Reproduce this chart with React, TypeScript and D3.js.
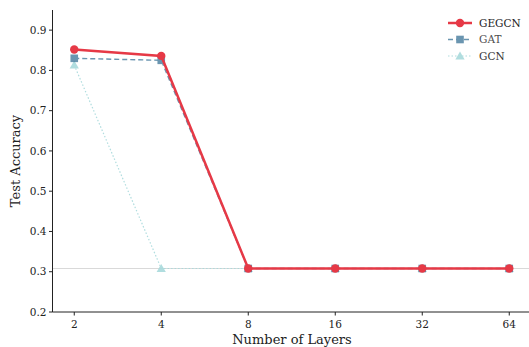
import React from "react";
import * as d3 from "d3";

const layers = ["2", "4", "8", "16", "32", "64"];
const gegcn = [0.852, 0.836, 0.308, 0.308, 0.308, 0.308];
const gat = [0.830, 0.825, 0.308, 0.308, 0.308, 0.308];
const gcn = [0.813, 0.308, 0.308, 0.308, 0.308, 0.308];
const yTicks = [0.2, 0.3, 0.4, 0.5, 0.6, 0.7, 0.8, 0.9];
const refLine = 0.308;

const W = 529, H = 347;
const m = { left: 52.5, top: 10, right: 531, bottom: 312 };

export default function App() {
  const x = d3.scaleLinear().domain([-0.25, 5.25]).range([m.left, m.right]);
  const y = d3.scaleLinear().domain([0.2, 0.95]).range([m.bottom, m.top]);
  const line = (vals: number[]) =>
    d3.line<number>().x((_, i) => x(i)).y((d) => y(d))(vals) || "";
  const font = "DejaVu Serif";
  const series = [
    { name: "GEGCN", vals: gegcn, color: "#e63946", width: 2.5, dash: "", marker: "circle", opacity: 1 },
    { name: "GAT", vals: gat, color: "#457b9d", width: 1.4, dash: "5,3", marker: "square", opacity: 0.8 },
    { name: "GCN", vals: gcn, color: "#a8dadc", width: 1.2, dash: "1.5,2", marker: "triangle", opacity: 0.9 },
  ];
  const marker = (type: string, cx: number, cy: number, color: string, key: string, s = 1) => {
    if (type === "circle") return <circle key={key} cx={cx} cy={cy} r={4.2 * s} fill={color} />;
    if (type === "square") return <rect key={key} x={cx - 3.8 * s} y={cy - 3.8 * s} width={7.6 * s} height={7.6 * s} fill={color} />;
    const r = 4.6 * s;
    return <path key={key} d={`M${cx},${cy - r} L${cx + r},${cy + r * 0.75} L${cx - r},${cy + r * 0.75} Z`} fill={color} />;
  };
  const order = [...series].reverse();
  return (
    <svg width={W} height={H} style={{ position: "absolute", left: 0, top: 0, background: "#fff" }} fontFamily={font}>
      <line x1={m.left} x2={m.right} y1={y(refLine)} y2={y(refLine)} stroke="#d9d9d9" strokeWidth={1} />
      {order.map((s) => (
        <g key={s.name} opacity={s.opacity}>
          <path d={line(s.vals)} fill="none" stroke={s.color} strokeWidth={s.width} strokeDasharray={s.dash} />
          {s.vals.map((v, i) => marker(s.marker, x(i), y(v), s.color, s.name + i))}
        </g>
      ))}
      <line x1={m.left} x2={m.left} y1={m.top} y2={m.bottom} stroke="#222" strokeWidth={1} />
      <line x1={m.left} x2={m.right} y1={m.bottom} y2={m.bottom} stroke="#222" strokeWidth={1} />
      {yTicks.map((t) => (
        <g key={t}>
          <line x1={m.left - 3.5} x2={m.left} y1={y(t)} y2={y(t)} stroke="#222" />
          <text x={m.left - 6} y={y(t)} dy="0.35em" textAnchor="end" fontSize={10.5} fill="#222">{t.toFixed(1)}</text>
        </g>
      ))}
      {layers.map((l, i) => (
        <g key={l}>
          <line x1={x(i)} x2={x(i)} y1={m.bottom} y2={m.bottom + 3.5} stroke="#222" />
          <text x={x(i)} y={m.bottom + 16} textAnchor="middle" fontSize={10.5} fill="#222">{l}</text>
        </g>
      ))}
      <text x={292} y={344} textAnchor="middle" fontSize={13} fill="#222">Number of Layers</text>
      <text transform={`translate(20,${(m.top + m.bottom) / 2}) rotate(-90)`} textAnchor="middle" fontSize={13} fill="#222">Test Accuracy</text>
      {series.map((s, i) => {
        const ly = 23 + i * 16.5;
        return (
          <g key={s.name} opacity={s.opacity}>
            <line x1={448} x2={472} y1={ly} y2={ly} stroke={s.color} strokeWidth={s.width} strokeDasharray={s.dash} />
            {marker(s.marker, 460, ly, s.color, "lg" + i)}
            <text x={479} y={ly} dy="0.35em" fontSize={10.5} fill="#222" opacity={1 / s.opacity}>{s.name}</text>
          </g>
        );
      })}
    </svg>
  );
}
